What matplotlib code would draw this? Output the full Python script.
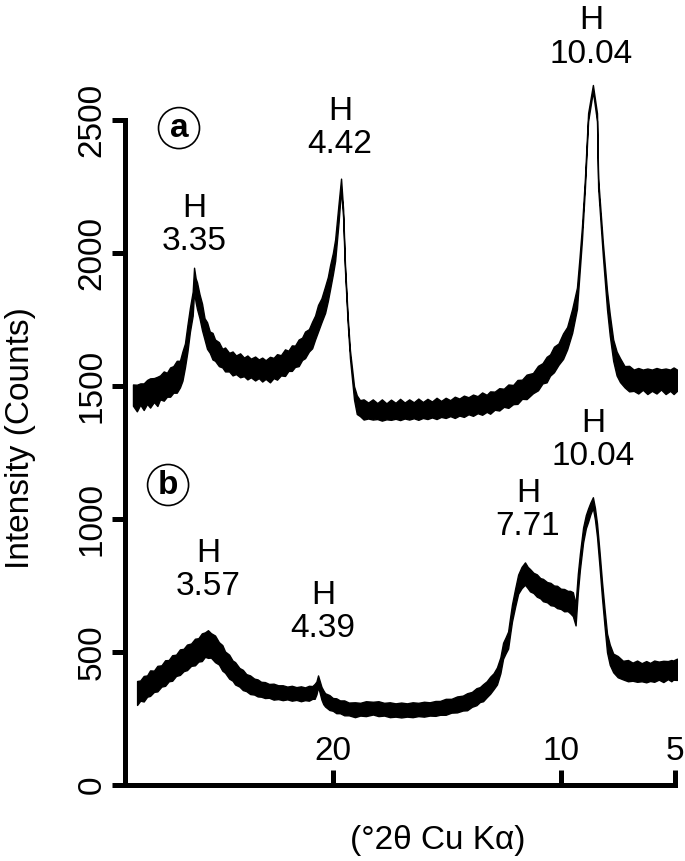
import matplotlib.pyplot as plt
import numpy as np

plt.rcParams['font.family'] = ['Liberation Sans', 'DejaVu Sans']

# sample (a): 2theta, mid counts, half width of the noisy band
two_theta_a = [28.77, 28.60, 28.45, 28.30, 28.15, 28.02, 27.85, 27.70, 27.58,
               27.42, 27.28, 27.14, 27.00, 26.85, 26.71, 26.60, 26.49, 26.38,
               26.27, 26.15, 26.09, 26.02, 25.96, 25.85, 25.74, 25.63, 25.52,
               25.40, 25.28, 25.17, 25.00, 24.85, 24.73, 24.55, 24.40, 24.25,
               24.07, 23.90, 23.75, 23.60, 23.41, 23.25, 23.10, 22.95, 22.76,
               22.60, 22.45, 22.28, 22.10, 21.95, 21.80, 21.66, 21.50, 21.35,
               21.22, 21.05, 20.91, 20.78, 20.65, 20.50, 20.34, 20.22, 20.12,
               20.00, 19.90, 19.75, 19.64, 19.55, 19.47, 19.35, 19.25, 19.07,
               18.95, 18.81, 18.65, 18.45, 18.25, 18.05, 17.85, 17.65, 17.45,
               17.25, 17.05, 16.85, 16.65, 16.45, 16.25, 16.05, 15.85, 15.65,
               15.45, 15.25, 15.05, 14.85, 14.65, 14.45, 14.25, 14.05, 13.85,
               13.65, 13.45, 13.25, 13.10, 12.90, 12.70, 12.50, 12.30, 12.09,
               11.90, 11.70, 11.50, 11.22, 11.00, 10.80, 10.62, 10.47, 10.30,
               10.10, 9.90, 9.72, 9.50, 9.29, 9.18, 9.07, 8.94, 8.80, 8.59,
               8.41, 8.36, 8.15, 7.97, 7.85, 7.70, 7.55, 7.40, 7.20, 7.00,
               6.80, 6.60, 6.40, 6.20, 6.00, 5.80, 5.60, 5.40, 5.20, 5.05, 4.90]
counts_a = [1466, 1455, 1470, 1460, 1478, 1474, 1485, 1480, 1495,
            1500, 1505, 1515, 1525, 1535, 1545, 1575, 1615, 1680,
            1750, 1810, 1900, 1860, 1840, 1800, 1760, 1715, 1690,
            1665, 1650, 1635, 1620, 1605, 1600, 1590, 1585, 1580,
            1578, 1572, 1570, 1568, 1566, 1565, 1562, 1562, 1562,
            1568, 1572, 1578, 1588, 1595, 1605, 1612, 1625, 1640,
            1655, 1672, 1692, 1720, 1755, 1785, 1825, 1865, 1910,
            1960, 2011, 2150, 2260, 2150, 1950, 1750, 1620, 1474,
            1430, 1417, 1412, 1408, 1412, 1406, 1410, 1405, 1411,
            1407, 1412, 1408, 1412, 1409, 1413, 1410, 1414, 1412,
            1416, 1414, 1418, 1417, 1420, 1421, 1424, 1426, 1428,
            1430, 1434, 1435, 1438, 1445, 1450, 1456, 1462, 1468,
            1478, 1488, 1497, 1511, 1530, 1548, 1562, 1579, 1600,
            1620, 1650, 1680, 1745, 1830, 1950, 2075, 2263, 2511, 2620,
            2511, 2263, 2011, 1823, 1730, 1635, 1585, 1560, 1535, 1528,
            1522, 1520, 1524, 1518, 1522, 1520, 1525, 1518, 1522, 1520, 1522]
spread_a = [40, 50, 40, 50, 45, 55, 45, 55, 45,
            55, 45, 55, 50, 60, 50, 55, 45, 50,
            45, 45, 45, 45, 50, 45, 50, 40, 50,
            40, 50, 40, 45, 35, 45, 35, 45, 35,
            45, 35, 45, 35, 45, 35, 45, 35, 48,
            38, 48, 38, 50, 38, 48, 40, 50, 42,
            50, 42, 50, 45, 50, 45, 50, 45, 45,
            40, 40, 35, 20, 15, 12, 12, 15, 25,
            35, 30, 38, 30, 38, 30, 40, 30, 38,
            30, 40, 30, 38, 30, 40, 30, 38, 30,
            40, 30, 38, 30, 40, 32, 40, 32, 40,
            32, 42, 32, 42, 34, 42, 34, 44, 36,
            45, 36, 46, 38, 46, 38, 48, 40, 48,
            40, 48, 42, 45, 40, 30, 25, 18, 15, 12,
            15, 18, 25, 35, 40, 40, 45, 45, 40, 48,
            40, 48, 38, 48, 40, 48, 38, 48, 40, 50, 40]

# sample (b)
two_theta_b = [28.59, 28.45, 28.30, 28.15, 28.02, 27.85, 27.70, 27.52, 27.36,
               27.20, 27.05, 26.88, 26.71, 26.55, 26.40, 26.22, 26.05, 25.90,
               25.75, 25.61, 25.48, 25.35, 25.17, 25.00, 24.85, 24.73, 24.55,
               24.40, 24.29, 24.10, 23.95, 23.80, 23.63, 23.45, 23.30, 23.15,
               22.98, 22.80, 22.60, 22.40, 22.20, 22.00, 21.80, 21.60, 21.40,
               21.22, 21.05, 20.90, 20.80, 20.72, 20.65, 20.58, 20.50, 20.42,
               20.34, 20.15, 20.00, 19.85, 19.69, 19.50, 19.30, 19.03, 18.80,
               18.55, 18.24, 18.00, 17.75, 17.50, 17.25, 17.00, 16.75, 16.50,
               16.25, 16.00, 15.75, 15.50, 15.30, 15.05, 14.80, 14.55, 14.30,
               14.11, 13.90, 13.70, 13.55, 13.41, 13.25, 13.10, 12.95, 12.80,
               12.65, 12.53, 12.42, 12.31, 12.22, 12.14, 12.00, 11.87, 11.72,
               11.57, 11.45, 11.35, 11.20, 11.05, 10.90, 10.78, 10.60, 10.45,
               10.30, 10.16, 10.00, 9.85, 9.70, 9.59, 9.47, 9.35, 9.25, 9.16,
               9.02, 8.90, 8.80, 8.70, 8.59, 8.50, 8.41, 8.30, 8.19, 8.08,
               7.97, 7.85, 7.70, 7.50, 7.27, 7.05, 6.85, 6.65, 6.45, 6.25,
               6.08, 5.90, 5.70, 5.50, 5.30, 5.15, 5.07, 4.90]
counts_b = [346, 355, 362, 372, 383, 390, 400, 410, 421,
            430, 440, 450, 462, 470, 480, 490, 500, 508,
            518, 528, 530, 525, 512, 495, 478, 462, 445,
            430, 420, 405, 395, 385, 377, 370, 365, 360,
            357, 354, 351, 349, 347, 346, 345, 344, 343,
            343, 345, 348, 352, 365, 390, 370, 345, 330,
            320, 310, 303, 298, 294, 290, 286, 283, 285,
            287, 289, 287, 285, 283, 282, 282, 282, 283,
            284, 285, 286, 288, 290, 294, 298, 303, 308,
            313, 322, 332, 340, 347, 360, 375, 390, 410,
            450, 505, 525, 545, 600, 647, 705, 755, 780,
            795, 780, 770, 760, 750, 740, 733, 725, 718,
            712, 707, 700, 695, 692, 688, 680, 640, 760, 840,
            940, 990, 1015, 1040, 1062, 1020, 959, 850, 733, 630,
            534, 490, 459, 445, 432, 430, 426, 428, 424, 426,
            425, 428, 430, 427, 432, 430, 432, 435]
spread_b = [45, 38, 48, 40, 48, 40, 48, 40, 48,
            40, 48, 40, 48, 42, 48, 42, 50, 44,
            52, 46, 52, 46, 50, 42, 48, 40, 45,
            38, 42, 35, 38, 32, 35, 30, 32, 28,
            30, 26, 30, 26, 28, 24, 28, 24, 28,
            24, 28, 24, 28, 24, 22, 22, 24, 26,
            25, 28, 24, 28, 24, 28, 24, 28, 24,
            28, 24, 28, 24, 28, 25, 28, 25, 28,
            25, 28, 25, 28, 26, 30, 26, 30, 28,
            32, 28, 32, 28, 32, 30, 32, 30, 32,
            30, 30, 30, 32, 32, 32, 34, 36, 40,
            42, 40, 42, 38, 42, 38, 42, 38, 42,
            38, 42, 38, 42, 38, 42, 45, 40, 35, 30,
            28, 25, 25, 22, 20, 22, 25, 28, 30, 32,
            35, 38, 35, 40, 35, 40, 34, 40, 34, 40,
            34, 40, 34, 40, 34, 40, 36, 40]

y_ticks = [0, 500, 1000, 1500, 2000, 2500]
x_ticks = [20, 10, 5]

# peak labels: text, 2theta, counts
peak_labels = [("H\n3.35", 26.09, 2105), ("H\n4.42", 19.68, 2470),
               ("H\n10.04", 8.67, 2810), ("H\n3.57", 25.48, 808),
               ("H\n4.39", 20.43, 650), ("H\n7.71", 11.44, 1034),
               ("H\n10.04", 8.59, 1297)]
panel_labels = [("a", 26.75, 2470), ("b", 27.23, 1128)]


def draw_trace(ax, tt, mid, spread):
    tt = np.array(tt)
    mid = np.array(mid)
    spread = np.array(spread)
    ax.fill_between(tt, mid - spread, mid + spread, color="black",
                    edgecolor="black", linewidth=1.0)


def main():
    fig = plt.figure(figsize=(6.85, 8.61), dpi=100)
    ax = fig.add_axes([125 / 685, 76 / 861, 552 / 685, 725 / 861])

    draw_trace(ax, two_theta_a, counts_a, spread_a)
    draw_trace(ax, two_theta_b, counts_b, spread_b)

    ax.set_xlim(29.12, 4.90)
    ax.set_ylim(0, 2726)

    for side in ["top", "right"]:
        ax.spines[side].set_visible(False)
    for side in ["left", "bottom"]:
        ax.spines[side].set_linewidth(3.6)
        ax.spines[side].set_capstyle("projecting")
    ax.spines["left"].set_bounds(0, 2500)
    ax.spines["bottom"].set_bounds(29.12, 5)

    ax.set_yticks(y_ticks)
    ax.set_xticks(x_ticks)
    ax.set_xticklabels([str(v) for v in x_ticks])
    ax.tick_params(axis="y", direction="out", length=9.5, width=3.6,
                   labelsize=24, pad=3, labelrotation=90)
    for lab in ax.get_yticklabels():
        lab.set_va("center")
    ax.tick_params(axis="x", direction="in", length=11, width=3.6,
                   labelsize=24, pad=-13)
    for tick in ax.xaxis.get_major_ticks():
        tick.label1.set_va("bottom")

    ax.set_ylabel("Intensity (Counts)", fontsize=24, va="center")
    ax.yaxis.set_label_coords(-0.19, 0.479)
    ax.set_xlabel("(°2θ Cu Kα)", fontsize=24, va="center")
    ax.xaxis.set_label_coords(0.567, -0.076)

    for txt, x, y in peak_labels:
        ax.text(x, y, txt, fontsize=24, ha="center", va="center",
                linespacing=1.1)
    for txt, x, y in panel_labels:
        ax.text(x, y, txt, fontsize=24, fontweight="bold", ha="center",
                va="center",
                bbox=dict(boxstyle="circle,pad=0.15", fc="white",
                          ec="black", lw=1.2))

    fig.savefig("out.png", dpi=100)


if __name__ == "__main__":
    main()
